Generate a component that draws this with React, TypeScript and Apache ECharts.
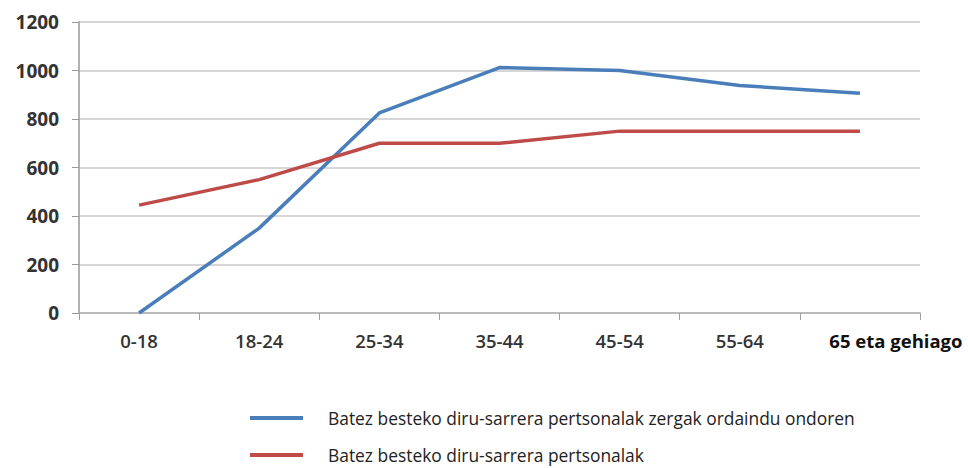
import React, { useEffect, useRef } from "react";
import * as echarts from "echarts";

const categories = ["0-18", "18-24", "25-34", "35-44", "45-54", "55-64", "65 eta gehiago"];
const afterTax = [0, 350, 825, 1012, 1000, 938, 906];
const personal = [445, 550, 700, 700, 750, 750, 750];
const seriesNames = [
  "Batez besteko diru-sarrera pertsonalak zergak ordaindu ondoren",
  "Batez besteko diru-sarrera pertsonalak",
];
const yTicks = { min: 0, max: 1200, interval: 200 };

const FONT = "'Open Sans', 'DejaVu Sans', sans-serif";

const legendBase = {
  left: 250,
  padding: 0,
  itemWidth: 53,
  itemHeight: 4,
  icon: "rect",
  textStyle: { fontFamily: FONT, fontSize: 17.4, lineHeight: 18, color: "#222", padding: [0, 0, 0, 20] },
};

export default function App() {
  const ref = useRef<HTMLDivElement>(null);
  useEffect(() => {
    if (!ref.current) return;
    const chart = echarts.init(ref.current, undefined, { renderer: "svg" });
    chart.setOption({
      animation: false,
      backgroundColor: "#ffffff",
      grid: { left: 79, right: 48, top: 22, bottom: 155, containLabel: false },
      legend: [
        { ...legendBase, top: 409, data: [seriesNames[0]] },
        { ...legendBase, top: 446, data: [seriesNames[1]] },
      ],
      xAxis: {
        type: "category",
        data: categories,
        boundaryGap: true,
        axisLine: { lineStyle: { color: "#b0b0b0", width: 1.5 } },
        axisTick: { show: true, length: 7, lineStyle: { color: "#a0a0a0" } },
        splitLine: { show: false },
        axisLabel: {
          interval: 0,
          margin: 18,
          fontFamily: FONT,
          fontSize: 18.5,
          fontWeight: 600,
          color: "#333",
          formatter: (v: string, i: number) => (i === categories.length - 1 ? `{b|${v}}` : v),
          rich: {
            b: { fontFamily: FONT, fontSize: 18.5, fontWeight: "bold", color: "#111", padding: [0, 0, 0, 72] },
          },
        },
      },
      yAxis: {
        type: "value",
        min: yTicks.min,
        max: yTicks.max,
        interval: yTicks.interval,
        axisLine: { show: true, lineStyle: { color: "#999", width: 1.5 } },
        axisTick: { show: true, length: 7, lineStyle: { color: "#999" } },
        splitLine: { lineStyle: { color: "#d6d6d6", width: 2 } },
        axisLabel: {
          margin: 20,
          fontFamily: FONT,
          fontSize: 19,
          fontWeight: "bold",
          color: "#333",
          formatter: (v: number) => String(v),
        },
      },
      series: [
        {
          name: seriesNames[0],
          type: "line",
          data: afterTax,
          symbol: "none",
          lineStyle: { color: "#4A7EBB", width: 3.5 },
          itemStyle: { color: "#4A7EBB" },
        },
        {
          name: seriesNames[1],
          type: "line",
          data: personal,
          symbol: "none",
          lineStyle: { color: "#BE4B48", width: 3.5 },
          itemStyle: { color: "#BE4B48" },
        },
      ],
    });
    return () => chart.dispose();
  }, []);
  return <div ref={ref} style={{ width: 968, height: 468, position: "absolute", left: 0, top: 0 }} />;
}
